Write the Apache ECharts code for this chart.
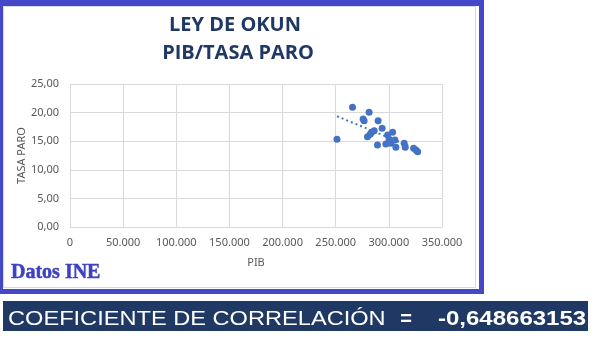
<!DOCTYPE html>
<html>
<head>
<meta charset="utf-8">
<script src="https://cdn.jsdelivr.net/npm/echarts@6/dist/echarts.min.js"></script>
<style>
  html, body { margin: 0; padding: 0; background: #fff; }
  #chart { width: 604px; height: 351px; }
</style>
</head>
<body>
<div id="chart"></div>
<script>
// PIB (millones) y tasa de paro (%)
var pib = [251200, 265800, 275800, 276700, 279900, 281400, 282400, 283700, 286200, 289300,
           289900, 293700, 297200, 298800, 300300, 301900, 303500, 305700, 306600, 314400,
           315400, 323300, 325500, 327100];
var paro = [15.33, 20.92, 18.88, 18.58, 15.79, 20.05, 16.20, 16.55, 16.84, 14.33,
            18.58, 17.25, 14.51, 16.08, 15.33, 14.63, 16.55, 15.20, 13.93, 14.63,
            13.93, 13.76, 13.46, 13.16];
var titleLines = ['LEY DE OKUN', 'PIB/TASA PARO'];
var coefLabel = 'COEFICIENTE DE CORRELACIÓN';
var coefValue = '-0,648663153';

var points = [];
for (var i = 0; i < pib.length; i++) points.push([pib[i], paro[i]]);

// linea de tendencia lineal (minimos cuadrados)
var n = pib.length, sx = 0, sy = 0, sxx = 0, sxy = 0;
for (var i = 0; i < n; i++) {
  sx += pib[i]; sy += paro[i]; sxx += pib[i] * pib[i]; sxy += pib[i] * paro[i];
}
var slope = (n * sxy - sx * sy) / (n * sxx - sx * sx);
var icpt = (sy - slope * sx) / n;
var xmin = Math.min.apply(null, pib), xmax = Math.max.apply(null, pib);
var trend = [[xmin, icpt + slope * xmin], [xmax, icpt + slope * xmax]];

function miles(v) {
  return String(v).replace(/\B(?=(\d{3})+(?!\d))/g, '.');
}

var blue = '#4347c8';
var chart = echarts.init(document.getElementById('chart'));
var option = {
  animation: false,
  backgroundColor: '#fff',
  grid: { left: 70, right: 162, top: 84, bottom: 124 },
  xAxis: {
    type: 'value', min: 0, max: 350000, interval: 50000,
    name: 'PIB', nameLocation: 'middle', nameGap: 30, nameMoveOverlap: false,
    nameTextStyle: { color: '#595959', fontSize: 11, fontFamily: 'Noto Sans' },
    axisLine: { show: true, lineStyle: { color: '#d9d9d9' } },
    axisTick: { show: false },
    splitLine: { lineStyle: { color: '#d9d9d9' } },
    axisLabel: { color: '#595959', fontSize: 11, fontFamily: 'Noto Sans', margin: 10,
      formatter: function (v) { return miles(v); } }
  },
  yAxis: {
    type: 'value', min: 0, max: 25, interval: 5,
    name: 'TASA PARO', nameLocation: 'middle', nameGap: 43, nameMoveOverlap: false,
    nameTextStyle: { color: '#595959', fontSize: 11, fontFamily: 'Noto Sans' },
    axisLine: { show: true, lineStyle: { color: '#d9d9d9' } },
    axisTick: { show: false },
    splitLine: { lineStyle: { color: '#d9d9d9' } },
    axisLabel: { color: '#595959', fontSize: 11, fontFamily: 'Noto Sans', margin: 11,
      formatter: function (v) { return v.toFixed(2).replace('.', ','); } }
  },
  series: [
    {
      type: 'scatter', data: points, symbolSize: 7,
      itemStyle: { color: '#4472c4', opacity: 1 }, z: 3
    },
    {
      type: 'line', data: trend, symbol: 'none', silent: true,
      lineStyle: { color: '#4472c4', width: 2, type: [2, 3] }, z: 2
    }
  ],
  graphic: [
    // marco azul
    { type: 'rect', shape: { x: 0, y: 0, width: 484, height: 6 }, style: { fill: blue } },
    { type: 'rect', shape: { x: 0, y: 289, width: 484, height: 5 }, style: { fill: blue } },
    { type: 'rect', shape: { x: 0, y: 0, width: 3, height: 294 }, style: { fill: blue } },
    { type: 'rect', shape: { x: 479, y: 0, width: 5, height: 294 }, style: { fill: blue } },
    { type: 'rect', shape: { x: 3.5, y: 6.5, width: 472, height: 281 },
      style: { fill: null, stroke: '#d9d9d9', lineWidth: 1 } },
    { type: 'text', x: 235, y: 25,
      style: { text: titleLines[0], fill: '#203864', font: 'bold 20px "Open Sans"',
        textAlign: 'center', textVerticalAlign: 'middle' } },
    { type: 'text', x: 238, y: 53,
      style: { text: titleLines[1], fill: '#203864', font: 'bold 20px "Open Sans"',
        textAlign: 'center', textVerticalAlign: 'middle' } },
    { type: 'text', x: 11, y: 273,
      style: { text: 'Datos INE', fill: '#4040c4', font: 'bold 20px "Liberation Serif"',
        textVerticalAlign: 'middle', stroke: '#4040c4', lineWidth: 0.5 } },
    // banda del coeficiente
    { type: 'rect', shape: { x: 3, y: 301, width: 585, height: 30 }, style: { fill: '#203864' } },
    { type: 'text', x: 8, y: 319, scaleX: 1.18,
      style: { text: coefLabel, fill: '#fff', font: '20px "Liberation Sans"',
        textVerticalAlign: 'middle' } },
    { type: 'text', x: 406, y: 319,
      style: { text: '=', fill: '#fff', font: 'bold 20px "Liberation Sans"',
        textAlign: 'center', textVerticalAlign: 'middle' } },
    { type: 'text', x: 438, y: 319, scaleX: 1.2,
      style: { text: coefValue, fill: '#fff', font: 'bold 20px "Liberation Sans"',
        textVerticalAlign: 'middle' } }
  ]
};
chart.setOption(option);
</script>
</body>
</html>
